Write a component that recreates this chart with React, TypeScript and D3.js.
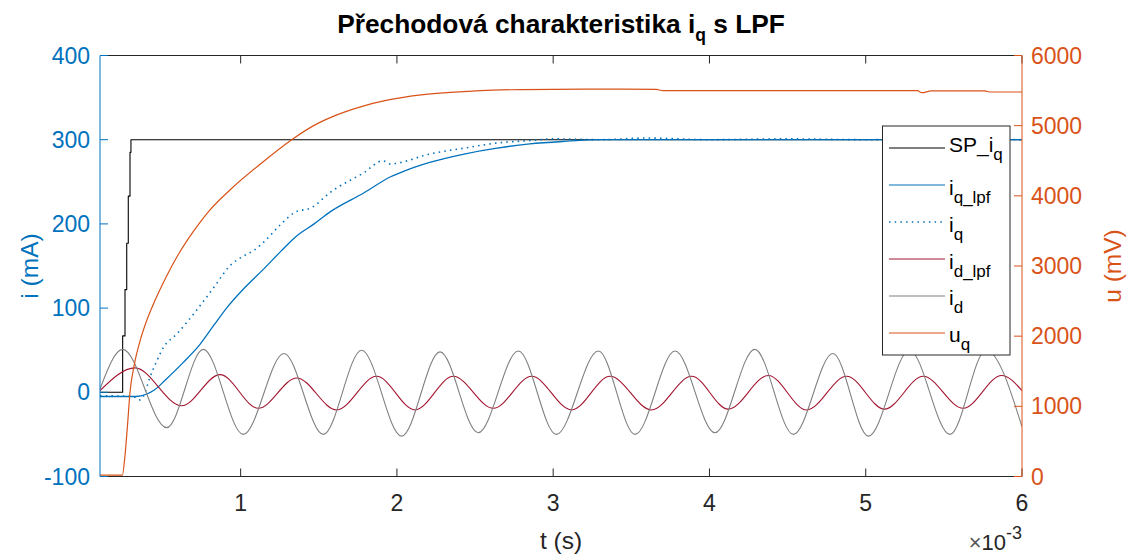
import React from 'react';
import * as d3 from 'd3';

// ---------- data (time in ms, currents in mA, voltage in mV) ----------
const xTickValues = [1, 2, 3, 4, 5, 6];
const yLeftTickValues = [-100, 0, 100, 200, 300, 400];
const yRightTickValues = [0, 1000, 2000, 3000, 4000, 5000, 6000];

const tSP = [0.1, 0.245, 0.26, 0.271, 0.281, 0.292, 0.298, 6.0];
const vSP = [0, 67, 122, 177, 233, 285, 300, 300];

const tIqLpf = [0.1, 0.33, 0.4, 0.45, 0.52, 0.63, 0.74, 0.83, 0.91, 1.03, 1.145, 1.26, 1.36, 1.47, 1.57, 1.79, 1.96, 2.05, 2.21, 2.43, 2.64, 2.85, 3.07, 3.3, 6.0];
const vIqLpf = [-5, -5, -2, 3, 15, 35, 57, 80, 100, 125, 146, 168, 186, 200, 214, 237, 256, 263, 273, 283, 290, 295, 298, 300, 300];

const tIq = [0.1, 0.31, 0.356, 0.38, 0.42, 0.463, 0.505, 0.59, 0.72, 0.83, 0.93, 1.03, 1.08, 1.145, 1.26, 1.34, 1.46, 1.57, 1.79, 1.91, 1.96, 2.0, 2.21, 2.43, 2.64, 2.85, 3.0, 3.3, 3.6, 4.0, 4.5, 5.0, 5.5, 6.0];
const vIq = [-4, -5, -9, -4, 18, 37, 53, 69, 98, 125, 150, 163, 168, 178, 200, 213, 220, 237, 261, 275, 271, 272, 283, 290, 296, 299, 301, 300, 302, 300, 301, 300, 301, 300];

const tIdLpf = [0.1, 0.324, 0.623, 0.868, 1.113, 1.359, 1.615, 1.87, 2.116, 2.361, 2.617, 2.862, 3.118, 3.364, 3.63, 3.886, 4.12, 4.377, 4.622, 4.878, 5.12, 5.368, 5.624, 5.87, 6.0];
const vIdLpf = [2, 29, -16, 21, -19, 17, -21, 19, -21, 19, -19, 19, -21, 19, -21, 19, -20, 20, -21, 19, -20, 19, -19, 20, 2];

const tId = [0.1, 0.245, 0.527, 0.761, 1.017, 1.277, 1.529, 1.774, 2.03, 2.276, 2.52, 2.777, 3.02, 3.289, 3.524, 3.78, 4.035, 4.29, 4.537, 4.79, 5.017, 5.28, 5.539, 5.77, 6.0];
const vId = [4, 51, -42, 51, -50, 46, -50, 50, -52, 48, -48, 49, -50, 49, -50, 49, -48, 51, -50, 46, -52, 50, -50, 50, -41];

const tUq = [0.1, 0.243, 0.26, 0.275, 0.292, 0.32, 0.356, 0.4, 0.45, 0.52, 0.6, 0.7, 0.8, 0.93, 1.13, 1.32, 1.5, 1.6, 1.8, 2.0, 2.2, 2.5, 2.8, 3.2, 3.66, 3.7, 5.33, 5.36, 5.42, 5.76, 5.8, 6.0];
const vUq = [20, 20, 300, 700, 1200, 1600, 1930, 2230, 2500, 2830, 3160, 3500, 3790, 4080, 4460, 4790, 5040, 5140, 5290, 5390, 5450, 5495, 5515, 5520, 5518, 5500, 5500, 5470, 5495, 5495, 5480, 5480];

const legendMain = ['SP_i', 'i', 'i', 'i', 'i', 'u'];
const legendSub = ['q', 'q_lpf', 'q', 'd_lpf', 'd', 'q'];

// ---------- styling ----------
const W = 1133;
const H = 556;
const L = 100, R = 1022, T = 55.5, B = 476.5;
const FONT = '"Liberation Sans", Arial, Helvetica, sans-serif';
const BLUE = '#0072BD';
const ORANGE = '#D95319';
const RED = '#A2142F';
const GRAY = '#808080';
const AX = '#262626';

const x = d3.scaleLinear().domain([0.1, 6.0]).range([L, R]);
const yL = d3.scaleLinear().domain([-100, 400]).range([B, T]);
const yR = d3.scaleLinear().domain([0, 6000]).range([B, T]);

function path(ts: number[], vs: number[], y: d3.ScaleLinear<number, number>, curve: d3.CurveFactory) {
  const pts = ts.map((t, i) => [t, vs[i]] as [number, number]);
  return d3.line<[number, number]>().x(d => x(d[0])).y(d => y(d[1])).curve(curve)(pts) || '';
}

export default function App() {
  const series = [
    { d: path(tSP, vSP, yL, d3.curveStepAfter), color: '#000000', w: 1.1, dash: undefined as string | undefined },
    { d: path(tIqLpf, vIqLpf, yL, d3.curveMonotoneX), color: BLUE, w: 1.3, dash: undefined },
    { d: path(tIq, vIq, yL, d3.curveMonotoneX), color: BLUE, w: 1.6, dash: '1.5 4.2' },
    { d: path(tIdLpf, vIdLpf, yL, d3.curveMonotoneX), color: RED, w: 1.1, dash: undefined },
    { d: path(tId, vId, yL, d3.curveMonotoneX), color: GRAY, w: 1.1, dash: undefined },
    { d: path(tUq, vUq, yR, d3.curveMonotoneX), color: ORANGE, w: 1.2, dash: undefined },
  ];
  const legendColors = ['#000000', BLUE, BLUE, RED, GRAY, ORANGE];
  const legendDash = [undefined, undefined, '1.5 4.2', undefined, undefined, undefined];
  const legendBaseOff = [3.5, 10, 10, 10, 8.5, 8.5];
  const tickLen = 8;

  return (
    <svg width={W} height={H} style={{ position: 'absolute', left: 0, top: 0, display: 'block', background: '#fff' }} fontFamily={FONT}>
      <defs>
        <clipPath id="plotClip">
          <rect x={L} y={T} width={R - L} height={B - T} />
        </clipPath>
      </defs>
      <rect x={0} y={0} width={W} height={H} fill="#fff" />

      {/* title */}
      <text x={(L + R) / 2} y={33} textAnchor="middle" fontSize={26.3} fontWeight="bold" fill="#000">
        <tspan>Přechodová charakteristika i</tspan>
        <tspan fontSize={17.5} dy={8}>q</tspan>
        <tspan dy={-8}> s LPF</tspan>
      </text>

      {/* data */}
      <g clipPath="url(#plotClip)">
        {series.map((s, i) => (
          <path key={i} d={s.d} fill="none" stroke={s.color} strokeWidth={s.w} strokeDasharray={s.dash} strokeLinejoin="round" />
        ))}
      </g>

      {/* box top/bottom */}
      <line x1={L} x2={R} y1={T} y2={T} stroke={AX} strokeWidth={1} />
      <line x1={L} x2={R} y1={B} y2={B} stroke={AX} strokeWidth={1} />
      {xTickValues.map(t => (
        <g key={t}>
          <line x1={x(t)} x2={x(t)} y1={B} y2={B - tickLen} stroke={AX} strokeWidth={1} />
          <line x1={x(t)} x2={x(t)} y1={T} y2={T + tickLen} stroke={AX} strokeWidth={1} />
          <text x={x(t)} y={511} textAnchor="middle" fontSize={23} fill={AX}>{t}</text>
        </g>
      ))}

      {/* left axis */}
      <line x1={L} x2={L} y1={T} y2={B} stroke={BLUE} strokeWidth={1} />
      {yLeftTickValues.map(v => (
        <g key={v}>
          <line x1={L} x2={L + tickLen} y1={yL(v)} y2={yL(v)} stroke={BLUE} strokeWidth={1} />
          <text x={90} y={yL(v)} dy="0.35em" textAnchor="end" fontSize={23} fill={BLUE}>{v}</text>
        </g>
      ))}

      {/* right axis */}
      <line x1={R} x2={R} y1={T} y2={B} stroke={ORANGE} strokeWidth={1} />
      {yRightTickValues.map(v => (
        <g key={v}>
          <line x1={R} x2={R - tickLen} y1={yR(v)} y2={yR(v)} stroke={ORANGE} strokeWidth={1} />
          <text x={1031} y={yR(v)} dy="0.35em" textAnchor="start" fontSize={23} fill={ORANGE}>{v}</text>
        </g>
      ))}

      {/* axis labels */}
      <text transform={`translate(29,${(T + B) / 2}) rotate(-90)`} dy="0.35em" textAnchor="middle" fontSize={24.5} fill={BLUE}>i (mA)</text>
      <text transform={`translate(1112,${(T + B) / 2}) rotate(-90)`} dy="0.35em" textAnchor="middle" fontSize={24.5} fill={ORANGE}>u (mV)</text>
      <text x={(L + R) / 2} y={549} textAnchor="middle" fontSize={24.5} fill={AX}>t (s)</text>

      {/* exponent */}
      <text x={1022} y={550} textAnchor="end" fill={AX}>
        <tspan fontSize={22} fill="#555">×</tspan>
        <tspan fontSize={22}>10</tspan>
        <tspan fontSize={18} dy={-11}>-3</tspan>
      </text>

      {/* legend */}
      <g>
        <rect x={882.5} y={126} width={127.5} height={229} fill="#fff" stroke={AX} strokeWidth={1} />
        {legendMain.map((m, i) => {
          const ly = 148 + i * 37;
          return (
            <g key={i}>
              <line x1={889} x2={945} y1={ly} y2={ly} stroke={legendColors[i]} strokeWidth={i === 2 ? 1.6 : 1.2} strokeDasharray={legendDash[i]} />
              <text x={949} y={ly + legendBaseOff[i]} fontSize={21} fill="#000">
                <tspan>{m}</tspan>
                <tspan fontSize={17} dy={8}>{legendSub[i]}</tspan>
              </text>
            </g>
          );
        })}
      </g>
    </svg>
  );
}
